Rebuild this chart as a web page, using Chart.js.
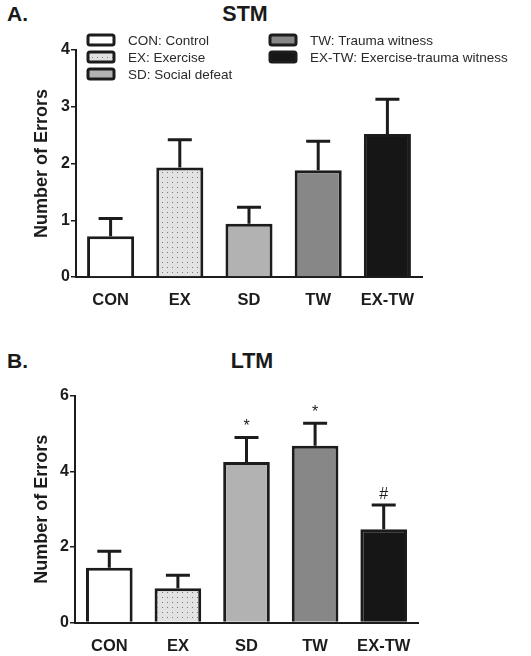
<!DOCTYPE html>
<html>
<head>
<meta charset="utf-8">
<script src="https://cdn.jsdelivr.net/npm/chart.js@4.4.0/dist/chart.umd.min.js"></script>
<style>
  body { margin: 0; background: #fff; width: 531px; height: 656px; position: relative; overflow: hidden; font-family: 'Liberation Sans', Arial, sans-serif; }
  canvas { position: absolute; left: 0; }
  .lbl { position: absolute; font-weight: bold; color: #1a1a1a; white-space: nowrap; }
</style>
</head>
<body>
<div class="lbl" style="left:7px;top:2px;font-size:21px;">A.</div>
<div class="lbl" style="left:245px;top:2px;font-size:21.5px;transform:translateX(-50%);">STM</div>
<div class="lbl" style="left:7px;top:349px;font-size:21px;">B.</div>
<div class="lbl" style="left:252px;top:349px;font-size:21.5px;transform:translateX(-50%);">LTM</div>
<canvas id="stm" width="531" height="310" style="top:0;width:531px;height:310px"></canvas>
<canvas id="ltm" width="531" height="336" style="top:320px;width:531px;height:336px"></canvas>
<script>
// data
const groups = ['CON', 'EX', 'SD', 'TW', 'EX-TW'];
const groupNames = ['CON: Control', 'EX: Exercise', 'SD: Social defeat', 'TW: Trauma witness', 'EX-TW: Exercise-trauma witness'];
const stmMeans = [0.72, 1.93, 0.94, 1.88, 2.52];
const stmSem = [0.31, 0.49, 0.29, 0.51, 0.61];
const ltmMeans = [1.45, 0.91, 4.25, 4.68, 2.47];
const ltmSem = [0.44, 0.34, 0.65, 0.60, 0.64];
const ltmMarks = ['', '', '*', '*', '#'];
const stmTicks = [0, 1, 2, 3, 4];
const ltmTicks = [0, 2, 4, 6];

const ink = '#1c1c1c';

// dotted fill for EX
function dots() {
  const c = document.createElement('canvas');
  c.width = 5; c.height = 5;
  const g = c.getContext('2d');
  g.fillStyle = '#e2e2e2';
  g.fillRect(0, 0, 5, 5);
  g.fillStyle = '#7a7a7a';
  g.fillRect(2, 2, 1, 1);
  return g.createPattern(c, 'repeat');
}
const fills = ['#ffffff', dots(), '#b2b2b2', '#878787', '#161616'];

// error bars + marks
const errorBars = {
  id: 'errorBars',
  afterDatasetsDraw(chart, args, opts) {
    const ctx = chart.ctx;
    const y = chart.scales.y;
    const meta = chart.getDatasetMeta(0);
    const means = chart.data.datasets[0].data;
    ctx.save();
    ctx.strokeStyle = ink;
    ctx.lineWidth = 3;
    meta.data.forEach((bar, i) => {
      const top = y.getPixelForValue(means[i] + opts.sem[i]);
      ctx.beginPath();
      ctx.moveTo(bar.x, bar.y);
      ctx.lineTo(bar.x, top);
      ctx.moveTo(bar.x - 12, top);
      ctx.lineTo(bar.x + 12, top);
      ctx.stroke();
      if (opts.marks && opts.marks[i]) {
        ctx.fillStyle = ink;
        ctx.font = '16px "Liberation Sans", Arial';
        ctx.textAlign = 'center';
        ctx.textBaseline = 'bottom';
        ctx.fillText(opts.marks[i], bar.x, top - 3);
      }
    });
    ctx.restore();
  }
};

// legend in two columns
const boxLegend = {
  id: 'boxLegend',
  afterDraw(chart, args, opts) {
    if (!opts.show) return;
    const ctx = chart.ctx;
    const spots = [[88, 40], [88, 57], [88, 74], [270, 40], [270, 57]];
    ctx.save();
    groupNames.forEach((name, i) => {
      const [x, cy] = spots[i];
      ctx.beginPath();
      ctx.roundRect(x, cy - 5, 26, 10, 2);
      ctx.fillStyle = fills[i];
      ctx.fill();
      ctx.lineWidth = 3;
      ctx.strokeStyle = ink;
      ctx.stroke();
      ctx.fillStyle = '#2a2a2a';
      ctx.font = '13.5px "Liberation Sans", Arial';
      ctx.textBaseline = 'middle';
      ctx.fillText(name, x + 40, cy + 1);
    });
    ctx.restore();
  }
};

function makeChart(id, means, sem, marks, ticks, pad, yWidth, showLegend) {
  return new Chart(document.getElementById(id), {
    type: 'bar',
    data: {
      labels: groups,
      datasets: [{
        data: means,
        backgroundColor: fills,
        borderColor: ink,
        borderWidth: 3,
        barPercentage: 0.68,
        categoryPercentage: 1
      }]
    },
    options: {
      responsive: false,
      animation: false,
      layout: { padding: pad },
      scales: {
        x: {
          grid: { display: false },
          border: { color: ink, width: 2 },
          ticks: { color: ink, padding: 6, font: { family: '"Liberation Sans", Arial', size: 16.5, weight: 'bold' } },
          afterFit(s) { s.height = 30; }
        },
        y: {
          min: ticks[0],
          max: ticks[ticks.length - 1],
          afterBuildTicks(s) { s.ticks = ticks.map(v => ({ value: v })); },
          grid: { drawOnChartArea: false, drawTicks: true, tickLength: 5, color: ink, lineWidth: 1.5 },
          border: { color: ink, width: 2 },
          ticks: { color: ink, padding: 1, font: { family: '"Liberation Sans", Arial', size: 16, weight: 'bold' } },
          title: {
            display: true, text: 'Number of Errors', color: ink, padding: 0,
            font: { family: '"Liberation Sans", Arial', size: 18, weight: 'bold' }
          },
          afterFit(s) { s.width = yWidth; }
        }
      },
      plugins: {
        legend: { display: false },
        tooltip: { enabled: false },
        errorBars: { sem: sem, marks: marks },
        boxLegend: { show: showLegend }
      }
    },
    plugins: [errorBars, boxLegend]
  });
}

makeChart('stm', stmMeans, stmSem, null, stmTicks, { left: 31, right: 109, top: 50, bottom: 3 }, 45, true);
makeChart('ltm', ltmMeans, ltmSem, ltmMarks, ltmTicks, { left: 31, right: 113, top: 76, bottom: 3.5 }, 44, false);
</script>
</body>
</html>
